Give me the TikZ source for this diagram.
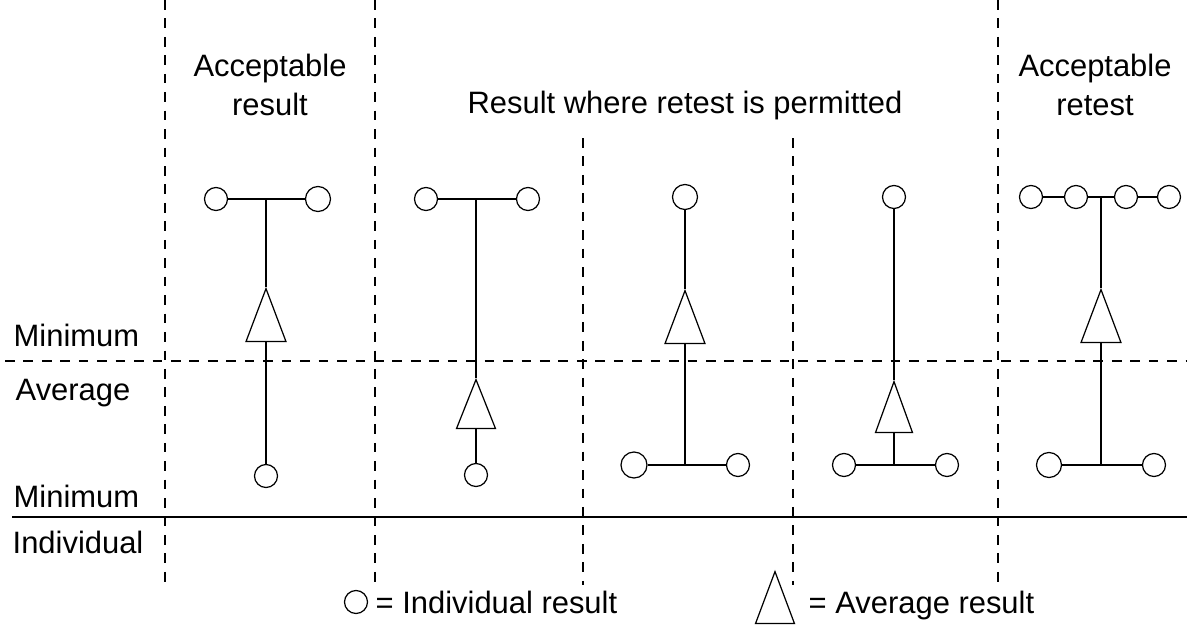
\documentclass[tikz,border=0pt]{standalone}
\usepackage{fontspec}
\setmainfont{Liberation Sans}
\usetikzlibrary{shapes.geometric}

\begin{document}
\begin{tikzpicture}[x=0.02cm, y=-0.02cm, line width=0.8pt,
    indiv/.style={draw, circle, line width=0.7pt, minimum size=0.46cm, inner sep=0pt, fill=white},
    avg/.style={draw, isosceles triangle, isosceles triangle stretches, shape border rotate=90,
                line width=0.7pt, minimum width=0.8cm, minimum height=1.06cm, inner sep=0pt, anchor=apex},
    lbl/.style={inner sep=0pt, font=\fontsize{17.6}{22.1}\selectfont},
    guide/.style={dashed, dash pattern=on 5.5pt off 5pt, line width=0.7pt}]
    \useasboundingbox (0,0) rectangle (1187,626);

    % draw the limit lines
    \draw[guide] (5,361) -- (1187,361);
    \draw (12,517) -- (1187,517);
    \draw[guide] (165,0) -- (165,583);
    \draw[guide] (375,0) -- (375,583);
    \draw[guide] (583,138) -- (583,585);
    \draw[guide] (793,138) -- (793,585);
    \draw[guide] (998,0) -- (998,583);

    % headings
    \node[lbl, align=center, anchor=base] (acc1) at (270,115) {Acceptable\\result};
    \node[lbl, anchor=base] (retest) at (685,113) {Result where retest is permitted};
    \node[lbl, align=center, anchor=base] (acc2) at (1095,115) {Acceptable\\retest};

    % left side labels
    \node[lbl, anchor=base west] (min1) at (13,346) {Minimum};
    \node[lbl, anchor=base west] (aver) at (15,400) {Average};
    \node[lbl, anchor=base west] (min2) at (13,507) {Minimum};
    \node[lbl, anchor=base west] (indl) at (12,553) {Individual};

    % column 1
    \node[indiv] (t1l) at (216,199) {};
    \node[indiv, minimum size=0.5cm] (t1r) at (318,199) {};
    \coordinate (j1) at (266,199);
    \node[avg] (a1) at (266,287) {};
    \node[indiv] (b1) at (266,476) {};
    \draw (t1l) -- (t1r);
    \draw (j1) -- (a1.apex);
    \draw (a1.lower side) -- (b1);

    % column 2
    \node[indiv] (t2l) at (426,199) {};
    \node[indiv] (t2r) at (528,199) {};
    \coordinate (j2) at (476,199);
    \node[avg, minimum width=0.78cm, minimum height=0.98cm] (a2) at (476,378) {};
    \node[indiv] (b2) at (476,475) {};
    \draw (t2l) -- (t2r);
    \draw (j2) -- (a2.apex);
    \draw (a2.lower side) -- (b2);

    % column 3
    \node[indiv, minimum size=0.5cm] (t3) at (685,197) {};
    \node[avg] (a3) at (685,289) {};
    \coordinate (j3) at (685,465);
    \node[indiv, minimum size=0.52cm] (b3l) at (634,465) {};
    \node[indiv] (b3r) at (738,465) {};
    \draw (t3) -- (a3.apex);
    \draw (a3.lower side) -- (j3);
    \draw (b3l) -- (b3r);

    % column 4
    \node[indiv] (t4) at (894,197) {};
    \node[avg, minimum width=0.74cm, minimum height=1.02cm] (a4) at (894,380) {};
    \coordinate (j4) at (894,465);
    \node[indiv] (b4l) at (844,465) {};
    \node[indiv] (b4r) at (947,465) {};
    \draw (t4) -- (a4.apex);
    \draw (a4.lower side) -- (j4);
    \draw (b4l) -- (b4r);

    % column 5
    \node[indiv] (t5a) at (1031,197) {};
    \node[indiv] (t5b) at (1076,197) {};
    \node[indiv] (t5c) at (1126,197) {};
    \node[indiv] (t5d) at (1169,197) {};
    \coordinate (j5) at (1101,197);
    \node[avg] (a5) at (1101,288) {};
    \coordinate (k5) at (1101,465);
    \node[indiv, minimum size=0.5cm] (b5l) at (1049,465) {};
    \node[indiv] (b5r) at (1154,465) {};
    \draw (t5a) -- (t5b);
    \draw (t5b) -- (t5c);
    \draw (t5c) -- (t5d);
    \draw (j5) -- (a5.apex);
    \draw (a5.lower side) -- (k5);
    \draw (b5l) -- (b5r);

    % legend
    \node[indiv] (keyc) at (356,602) {};
    \node[lbl, anchor=base west] (keyct) at (375,613) {= Individual result};
    \node[avg, minimum width=0.78cm, minimum height=1.04cm] (keya) at (775,570) {};
    \node[lbl, anchor=base west] (keyat) at (808,613) {= Average result};
\end{tikzpicture}
\end{document}
